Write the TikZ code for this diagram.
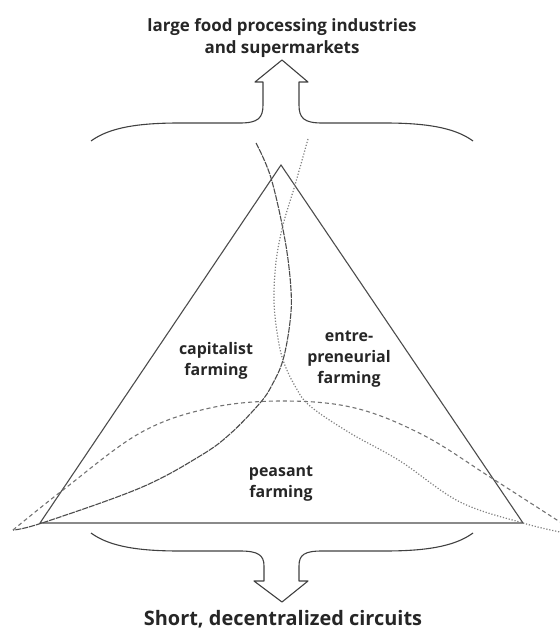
\documentclass[tikz,border=0pt]{standalone}
\usepackage{fontspec}
\setmainfont{Open Sans}
\begin{document}
\begin{tikzpicture}[x=1bp,y=-1bp,
    label/.style={align=center,text=black!85,font=\bfseries\fontsize{16}{21}\selectfont},
    edge/.style={draw=black!70,line width=1.1bp},
    capcurve/.style={draw=black!70,line width=1.1bp,dash pattern=on 6bp off 1bp},
    peascurve/.style={draw=black!55,line width=1.1bp,dash pattern=on 4bp off 3bp},
    entcurve/.style={draw=black!50,line width=1.2bp,dash pattern=on 1.2bp off 1.8bp},
    brace/.style={draw=black!75,line width=1.1bp,line join=round}]
			\useasboundingbox (0,0) rectangle (560,632);
			% Texts
			\node[label,font=\bfseries\fontsize{17}{22}\selectfont] (top) at (282,38) {large food processing industries\\and supermarkets};
			\node[label,font=\bfseries\fontsize{20}{24}\selectfont] (bottom) at (283,619) {Short, decentralized circuits};
			\node[label] (capit) at (216,361) {capitalist\\farming};
			\node[label] (entre) at (349,359) {entre-\\preneurial\\farming};
			\node[label] (peas) at (281,484) {peasant\\farming};
			% Triangle
			\coordinate (A) at (281,165);
			\coordinate (L) at (40,523);
			\coordinate (R) at (523,523);
			\draw[edge] (A) -- (L) -- (R) -- cycle;
			% Curves
			\draw[capcurve] plot[smooth,tension=0.6] coordinates {(256,143) (271,178) (285,240) (291,290) (290,322) (283,360) (272,385) (260,403) (230,434) (200,456) (140,488) (42,523) (13,530)};
			\draw[entcurve] plot[smooth,tension=0.6] coordinates {(308,139) (295,185) (283,225) (276,262) (274,300) (277,332) (283,360) (295,386) (310,406) (350,433) (400,461) (460,502) (523,523) (560,532)};
			\draw[peascurve] plot[smooth,tension=0.6] coordinates {(13,530) (63,490) (140,433) (210,408) (283,401) (355,408) (423,435) (490,477) (560,522)};
			% Braces with arrows
			\draw[brace] (91,141) .. controls (110,127) and (140,123) .. (180,123) -- (240,123)
			  .. controls (258,123) and (263,118) .. (263,105) -- (263,82) -- (255,82) -- (282,60)
			  -- (308,82) -- (299,82) -- (299,105) .. controls (299,118) and (304,123) .. (322,123)
			  -- (384,123) .. controls (424,123) and (454,127) .. (473,141);
			\draw[brace] (91,533) .. controls (110,547) and (140,551) .. (180,551) -- (240,551)
			  .. controls (258,551) and (264,555) .. (264,566) -- (264,581) -- (254,581) -- (282,602)
			  -- (308,581) -- (299,581) -- (299,566) .. controls (299,555) and (304,551) .. (322,551)
			  -- (384,551) .. controls (424,551) and (454,547) .. (473,533);
		\end{tikzpicture}
\end{document}
